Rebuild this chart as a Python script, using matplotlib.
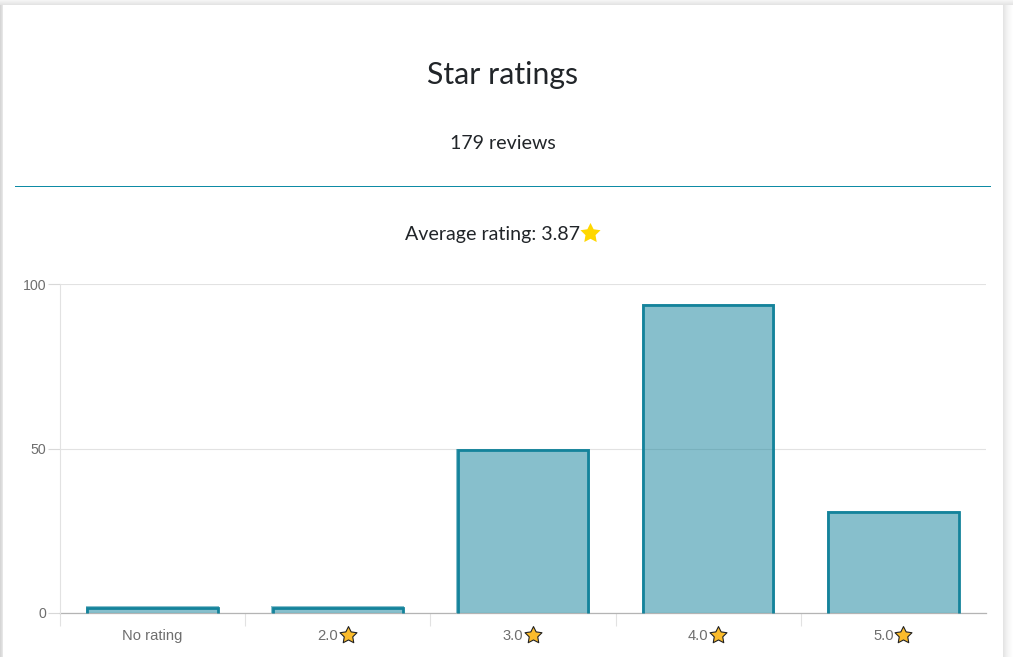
import matplotlib
matplotlib.use("Agg")
import matplotlib.pyplot as plt
from matplotlib.lines import Line2D
from matplotlib.patches import Rectangle
from matplotlib.path import Path
from matplotlib.transforms import offset_copy

W, H = 1013, 657

labels = ["No rating", "2.0", "3.0", "4.0", "5.0"]
counts = [2, 2, 50, 94, 31]
y_ticks = [0, 50, 100]
title = "Star ratings"
subtitle = "179 reviews"
average = "Average rating: 3.87"

teal = "#14839b"
grey_text = "#6e6e6e"
dark_text = "#212529"


def fx(px):
    return px / W


def fy(px):
    return 1 - px / H


fig = plt.figure(figsize=(W / 100, H / 100), dpi=100, facecolor="white")
fat_star = Path.unit_regular_star(5, innerCircle=0.5)

############# card shadow #####################################################
# left, top and right bands, fading towards the white card
for i, shade in enumerate(["#d6d6d6", "#dddddd", "#e6e6e6"]):
    fig.add_artist(Rectangle((fx(i), 0), 1 / W, fy(4), transform=fig.transFigure, fc=shade, ec="none"))
for i, shade in enumerate(["#e4e4e4", "#e8e8e8", "#ececec", "#f0f0f0", "#f3f3f3", "#f6f6f6", "#f8f8f8", "#fafafa", "#fcfcfc", "#fefefe"]):
    fig.add_artist(Rectangle((fx(1003 + i), 0), 1 / W, fy(4), transform=fig.transFigure, fc=shade, ec="none"))
for i, shade in enumerate(["#f4f4f4", "#f0f0f0", "#ececec", "#e8e8e8", "#e4e4e4"]):
    fig.add_artist(Rectangle((fx(0), fy(i + 1)), 1, 1 / H, transform=fig.transFigure, fc=shade, ec="none"))

############# header ##########################################################
fig.text(fx(502.5), fy(75), title, family="Lato", fontsize=21.8, color=dark_text, ha="center", va="center")
fig.text(fx(502.5), fy(143.3), subtitle, family="Lato", fontsize=14.15, color=dark_text, ha="center", va="center")
fig.add_artist(Line2D([fx(15), fx(989.5)], [fy(186), fy(186)], color="#0e8ba5", lw=0.72))
fig.text(fx(492.5), fy(235), average, family="Lato", fontsize=14.15, color=dark_text, ha="center", va="center")
fig.add_artist(Line2D([fx(590)], [fy(233)], marker=fat_star, ms=15.2, mfc="#ffd700", mec="#ffd700", mew=0, ls="none"))

############# bars ############################################################
ax = fig.add_axes([fx(60), fy(612.8), fx(986) - fx(60), fy(284.3) - fy(612.8)])
centers = [i + 0.5 for i in range(len(counts))]
bar_width = 0.72
ax.set_xlim(0, len(counts))
ax.set_ylim(0, 100)
ax.set_axisbelow(True)
ax.yaxis.grid(True, color="#e2e2e2", lw=0.8)

ax.bar(centers, counts, width=bar_width, color=teal, alpha=0.51, linewidth=0, zorder=2)

# outline sits inside the bar on three sides, the bottom stays open
inset_x = 1.4 / (926 / len(counts))
inset_y = 1.4 / 3.285
for c, v in zip(centers, counts):
    left = c - bar_width / 2 + inset_x
    right = c + bar_width / 2 - inset_x
    top = v - inset_y
    ax.plot([left, left, right, right], [0, top, top, 0], color=teal, lw=2.0,
            solid_joinstyle="miter", solid_capstyle="butt", zorder=3, clip_on=False)

############# axes ############################################################
for side in ["top", "right"]:
    ax.spines[side].set_visible(False)
ax.spines["bottom"].set_color("#b4b4b4")
ax.spines["bottom"].set_linewidth(0.9)
ax.spines["bottom"].set_zorder(1)
ax.spines["left"].set_color("#e2e2e2")
ax.spines["left"].set_linewidth(0.8)
ax.spines["left"].set_bounds(0, 100)

ax.set_yticks(y_ticks)
ax.set_yticklabels([str(t) for t in y_ticks], family="Liberation Sans", fontsize=10.2, color=grey_text)
ax.tick_params(axis="y", length=9, width=0.8, color="#d8d8d8", pad=1)

ax.set_xticks(range(len(counts)))
ax.set_xticklabels([])
ax.tick_params(axis="x", length=9, width=0.8, color="#e2e2e2")

star_trans = offset_copy(ax.transData, fig=fig, x=10, y=-22.5, units="dots")
for c, lab in zip(centers, labels):
    shift = 0 if lab == "No rating" else -10 * 0.72
    ax.annotate(lab, (c, 0), xytext=(shift, -23 * 0.72), textcoords="offset points", ha="center", va="center",
                family="Liberation Sans", fontsize=10.6, color=grey_text, annotation_clip=False)

ax.scatter(centers[1:], [0] * len(centers[1:]), transform=star_trans, marker=fat_star, s=165, c="#fbbc2c",
           edgecolors="#222222", linewidths=0.8, clip_on=False, zorder=5)

fig.savefig("out.png", dpi=100, facecolor="white")
